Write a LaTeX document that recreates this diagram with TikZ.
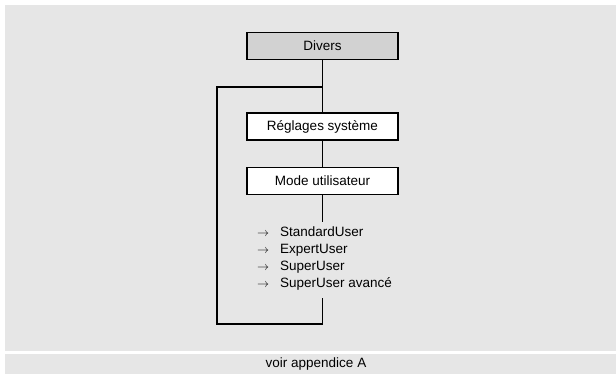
\documentclass[tikz,border=0pt]{standalone}
\usepackage{fontspec}
\setmainfont{Liberation Sans}
\newcommand{\arr}{\makebox[23pt][l]{\fontsize{12}{16}\selectfont$\rightarrow$}}
\definecolor{panel}{HTML}{E6E6E6}
\definecolor{topfill}{HTML}{D2D2D2}
\begin{document}
\begin{tikzpicture}[x=1pt,y=-1pt,
  box/.style={draw=black,line width=1.7pt,minimum width=151pt,minimum height=27pt,inner sep=0pt,font=\fontsize{13.5}{16}\selectfont},
  conn/.style={line width=1.7pt},
  lbl/.style={font=\fontsize{13.5}{16.7}\selectfont,inner sep=0pt}]
\useasboundingbox (0,0) rectangle (616,374);
\fill[white] (0,0) rectangle (616,374);
\fill[panel] (5,5) rectangle (616,351);
\fill[panel] (5,354) rectangle (616,374);
\node[box,fill=topfill] (divers) at (322.5,46) {Divers};
\node[box,fill=white] (regl) at (322.5,126.5) {Réglages système};
\node[box,fill=white] (mode) at (322.5,181) {Mode utilisateur};
\coordinate (jtop) at (322.5,87);
\coordinate (lend) at (322.5,222);
\coordinate (lret) at (322.5,298);
\node[lbl,align=left,anchor=north west] (list) at (257,227) {\arr StandardUser\\\arr ExpertUser\\\arr SuperUser\\\arr SuperUser avancé};
\draw[conn] (divers.south) -- (regl.north);
\draw[conn] (regl.south) -- (mode.north);
\draw[conn] (mode.south) -- (lend);
\draw[conn] (jtop) -- (217,87) -- (217,324) -- (322.5,324) -- (lret);
\node[lbl] (foot) at (316,364) {voir appendice A};
\end{tikzpicture}
\end{document}
